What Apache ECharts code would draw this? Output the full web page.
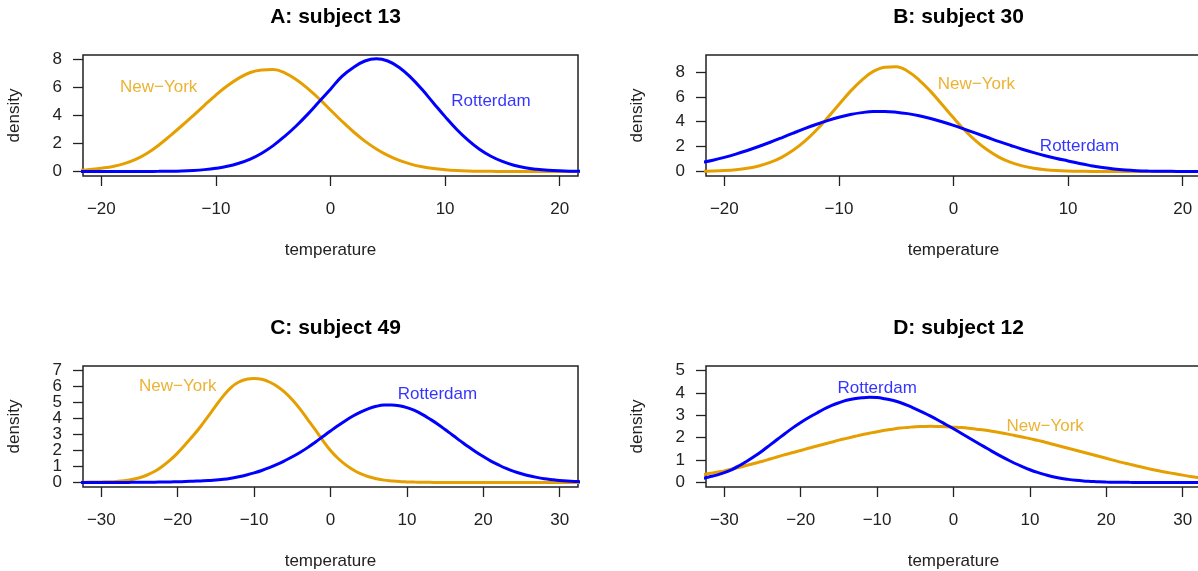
<!DOCTYPE html>
<html>
<head>
<meta charset="utf-8">
<title>density by subject</title>
<script src="https://cdn.jsdelivr.net/npm/echarts@6.0.0/dist/echarts.min.js"></script>
<style>
  html, body { margin: 0; padding: 0; background: #fff; }
  #chart { width: 1198px; height: 571px; }
</style>
</head>
<body>
<div id="chart"></div>
<script>
// temperature grid of the curves
const tempsAB = [-22, -21, -20, -19, -18, -17, -16, -15, -14, -13, -12, -11, -10, -9, -8, -7, -6, -5, -4, -3, -2, -1,
  0, 1, 2, 3, 4, 5, 6, 7, 8, 9, 10, 11, 12, 13, 14, 15, 16, 17, 18, 19, 20, 21, 22];
const tempsCD = [-33, -32, -31, -30, -29, -28, -27, -26, -25, -24, -23, -22, -21, -20, -19, -18, -17, -16, -15, -14,
  -13, -12, -11, -10, -9, -8, -7, -6, -5, -4, -3, -2, -1, 0, 1, 2, 3, 4, 5, 6, 7, 8, 9, 10, 11, 12, 13, 14, 15, 16,
  17, 18, 19, 20, 21, 22, 23, 24, 25, 26, 27, 28, 29, 30, 31, 32, 33];

// densities
const nyA = [0.07, 0.14, 0.24, 0.36, 0.56, 0.86, 1.3, 1.88, 2.55, 3.25, 3.98, 4.73, 5.46, 6.12, 6.67, 7.07, 7.25, 7.28,
  7.05, 6.57, 5.94, 5.2, 4.39, 3.59, 2.84, 2.17, 1.61, 1.15, 0.79, 0.53, 0.34, 0.21, 0.13, 0.076, 0.043, 0.023, 0.012,
  0.006, 0.003, 0.001, 0, 0, 0, 0, 0];
const rtA = [0, 0, 0, 0, 0.001, 0.002, 0.005, 0.011, 0.022, 0.042, 0.077, 0.135, 0.23, 0.37, 0.59, 0.89, 1.31, 1.85,
  2.51, 3.25, 4.08, 4.98, 5.88, 6.8, 7.43, 7.89, 8.05, 7.89, 7.43, 6.72, 5.85, 4.88, 3.92, 3.02, 2.24, 1.59, 1.09,
  0.72, 0.45, 0.27, 0.16, 0.089, 0.048, 0.025, 0.012];
const nyB = [0.02, 0.041, 0.079, 0.147, 0.262, 0.447, 0.729, 1.14, 1.7, 2.42, 3.3, 4.31, 5.39, 6.44, 7.35, 8.04, 8.38,
  8.42, 8.06, 7.35, 6.44, 5.39, 4.31, 3.3, 2.42, 1.7, 1.14, 0.73, 0.45, 0.26, 0.15, 0.079, 0.041, 0.02, 0.009, 0.004,
  0.002, 0, 0, 0, 0, 0, 0, 0, 0];
const rtB = [0.72, 0.91, 1.14, 1.4, 1.69, 2.01, 2.35, 2.71, 3.08, 3.44, 3.78, 4.09, 4.36, 4.58, 4.73, 4.82, 4.83, 4.77,
  4.65, 4.48, 4.26, 4.0, 3.71, 3.39, 3.06, 2.73, 2.4, 2.09, 1.79, 1.52, 1.27, 1.05, 0.85, 0.64, 0.47, 0.32, 0.2, 0.12,
  0.07, 0.04, 0.022, 0.012, 0.006, 0.003, 0.001];
const nyC = [0.01, 0.02, 0.03, 0.04, 0.05, 0.07, 0.11, 0.19, 0.3, 0.47, 0.7, 1.02, 1.4, 1.85, 2.38, 2.92, 3.5, 4.15,
  4.8, 5.43, 5.95, 6.28, 6.45, 6.5, 6.45, 6.28, 6.02, 5.65, 5.17, 4.6, 3.95, 3.3, 2.62, 2.0, 1.5, 1.1, 0.78, 0.54,
  0.36, 0.24, 0.15, 0.1, 0.06, 0.04, 0.025, 0.015, 0.01, 0.005, 0, 0, 0, 0, 0, 0, 0, 0, 0, 0, 0, 0, 0, 0, 0, 0, 0, 0, 0];
const rtC = [0, 0, 0, 0, 0.003, 0.005, 0.007, 0.01, 0.012, 0.015, 0.02, 0.03, 0.035, 0.05, 0.06, 0.08, 0.1, 0.12,
  0.16, 0.2, 0.27, 0.36, 0.47, 0.6, 0.75, 0.93, 1.13, 1.36, 1.61, 1.88, 2.18, 2.52, 2.87, 3.22, 3.56, 3.88, 4.17,
  4.42, 4.62, 4.76, 4.84, 4.85, 4.8, 4.68, 4.5, 4.26, 3.97, 3.66, 3.31, 2.95, 2.6, 2.25, 1.92, 1.62, 1.34, 1.1, 0.88,
  0.7, 0.55, 0.42, 0.32, 0.24, 0.18, 0.127, 0.09, 0.064, 0.045];
const nyD = [0.34, 0.4, 0.46, 0.52, 0.6, 0.68, 0.77, 0.86, 0.95, 1.05, 1.15, 1.25, 1.34, 1.43, 1.53, 1.62, 1.71, 1.8,
  1.89, 1.97, 2.05, 2.13, 2.2, 2.27, 2.33, 2.38, 2.43, 2.46, 2.49, 2.5, 2.51, 2.5, 2.49, 2.47, 2.45, 2.42, 2.38, 2.34,
  2.29, 2.23, 2.17, 2.1, 2.03, 1.96, 1.88, 1.8, 1.71, 1.62, 1.53, 1.44, 1.35, 1.26, 1.17, 1.08, 0.99, 0.9, 0.82, 0.74,
  0.66, 0.58, 0.51, 0.45, 0.39, 0.33, 0.27, 0.22, 0.18];
const rtD = [0.17, 0.25, 0.33, 0.44, 0.58, 0.76, 0.96, 1.18, 1.42, 1.68, 1.94, 2.2, 2.45, 2.68, 2.89, 3.08, 3.27, 3.43,
  3.56, 3.67, 3.74, 3.78, 3.8, 3.79, 3.74, 3.67, 3.57, 3.44, 3.29, 3.13, 2.96, 2.78, 2.59, 2.4, 2.2, 2.0, 1.8, 1.6,
  1.4, 1.21, 1.03, 0.86, 0.71, 0.57, 0.45, 0.35, 0.26, 0.19, 0.14, 0.1, 0.07, 0.05, 0.03, 0.02, 0.015, 0.01, 0.007,
  0.005, 0, 0, 0, 0, 0, 0, 0, 0, 0];

// panel titles and curve labels (label spot in data units)
const titles = ['A: subject 13', 'B: subject 30', 'C: subject 49', 'D: subject 12'];
const nyLabelAt = [[-15, 6], [2, 7], [-20, 6], [12, 2.5]];
const rtLabelAt = [[14, 5], [11, 2], [14, 5.5], [-10, 4.2]];

// axis ticks and ranges
const ticksXAB = [-20, -10, 0, 10, 20];
const ticksXCD = [-30, -20, -10, 0, 10, 20, 30];
const ticksY = [[0, 2, 4, 6, 8], [0, 2, 4, 6, 8], [0, 1, 2, 3, 4, 5, 6, 7], [0, 1, 2, 3, 4, 5]];
const xRange = [[-21.6, 21.6], [-21.6, 21.6], [-32.4, 32.4], [-32.4, 32.4]];
const yRange = [[-0.32, 8.32], [-0.36, 9.36], [-0.28, 7.28], [-0.2, 5.2]];

const ORANGE = '#E69F00';
const BLUE = '#0000FF';
const FONT = 'Liberation Sans, Arial, Helvetica, sans-serif';

const panels = [
  { x: tempsAB, ny: nyA, rt: rtA, ticks: ticksXAB },
  { x: tempsAB, ny: nyB, rt: rtB, ticks: ticksXAB },
  { x: tempsCD, ny: nyC, rt: rtC, ticks: ticksXCD },
  { x: tempsCD, ny: nyD, rt: rtD, ticks: ticksXCD }
];

// pixel layout of the four plot boxes
const boxLeft = [83, 706, 83, 706];
const boxTop = [55, 55, 366, 366];
const boxW = 495, boxH = 121;

const minus = v => String(v).replace('-', '\u2212');
const zip = (xs, ys) => xs.map((x, i) => [x, ys[i]]);

const grid = [], xAxis = [], yAxis = [], series = [], title = [];
const extraY = [];

const yLabel = values => ({
  customValues: values, formatter: minus, margin: 21, showMinLabel: true, showMaxLabel: true,
  hideOverlap: false, fontFamily: FONT, fontSize: 17, color: '#222'
});

panels.forEach((p, i) => {
  grid.push({
    left: boxLeft[i], top: boxTop[i], width: boxW, height: boxH,
    show: true, borderColor: '#222', borderWidth: 1.5, backgroundColor: 'transparent',
    containLabel: false, outerBoundsMode: 'none'
  });
  title.push({
    text: titles[i],
    left: boxLeft[i] + boxW / 2,
    top: boxTop[i] - 53,
    textAlign: 'center',
    textStyle: { fontFamily: FONT, fontWeight: 'bold', fontSize: 21, color: '#000' }
  });
  xAxis.push({
    type: 'value', gridIndex: i,
    min: xRange[i][0], max: xRange[i][1],
    name: 'temperature', nameLocation: 'middle', nameGap: 66,
    nameTextStyle: { fontFamily: FONT, fontSize: 17, color: '#222' },
    axisLine: { show: false, onZero: false },
    axisTick: { show: true, inside: false, length: 10, customValues: p.ticks, lineStyle: { color: '#222', width: 1.3 } },
    axisLabel: { customValues: p.ticks, formatter: minus, margin: 25, showMinLabel: true, showMaxLabel: true,
      fontFamily: FONT, fontSize: 17, color: '#222' },
    splitLine: { show: false }
  });
  // tightly packed tick labels are split over two overlaid axes so none get dropped
  const ty = ticksY[i];
  const crowded = boxH / (yRange[i][1] - yRange[i][0]) < 18;
  const ownLabels = crowded ? ty.filter((v, k) => k % 2 === 0) : ty;
  yAxis.push({
    type: 'value', gridIndex: i,
    min: yRange[i][0], max: yRange[i][1],
    name: 'density', nameLocation: 'middle', nameGap: 60, nameRotate: 90,
    nameTextStyle: { fontFamily: FONT, fontSize: 17, color: '#222' },
    axisLine: { show: false, onZero: false },
    axisTick: { show: true, inside: false, length: 10, customValues: ty, lineStyle: { color: '#222', width: 1.3 } },
    axisLabel: yLabel(ownLabels),
    splitLine: { show: false }
  });
  if (crowded) {
    extraY.push({
      type: 'value', gridIndex: i, position: 'left', offset: 0,
      min: yRange[i][0], max: yRange[i][1],
      axisLine: { show: false, onZero: false },
      axisTick: { show: false },
      axisLabel: yLabel(ty.filter((v, k) => k % 2 === 1)),
      splitLine: { show: false }
    });
  }
  const curve = (ys, color) => ({
    type: 'line', xAxisIndex: i, yAxisIndex: i,
    data: zip(p.x, ys), smooth: 0.4, showSymbol: false, clip: true, silent: true,
    lineStyle: { color: color, width: 3 }
  });
  series.push(curve(p.ny, ORANGE));
  series.push(curve(p.rt, BLUE));
  const tag = (at, text, color) => ({
    type: 'scatter', xAxisIndex: i, yAxisIndex: i, silent: true,
    symbolSize: 0, z: 5,
    data: [{ value: at, name: text }],
    label: { show: true, position: 'inside', formatter: '{b}', fontFamily: FONT, fontSize: 17, color: color }
  });
  series.push(tag(nyLabelAt[i], 'New\u2212York', ORANGE));
  series.push(tag(rtLabelAt[i], 'Rotterdam', BLUE));
});

const chart = echarts.init(document.getElementById('chart'), null, { renderer: 'canvas' });
chart.setOption({
  animation: false,
  backgroundColor: '#fff',
  title, grid, xAxis,
  yAxis: yAxis.concat(extraY),
  series
});
</script>
</body>
</html>
